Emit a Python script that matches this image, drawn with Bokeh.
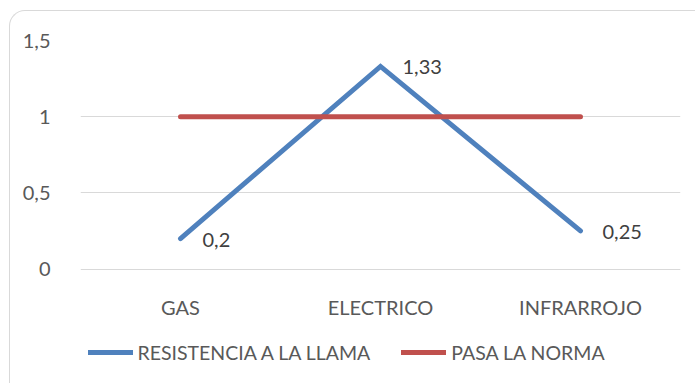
from bokeh.plotting import figure
from bokeh.models import (ColumnDataSource, FactorRange, Range1d, FixedTicker,
                          LabelSet, Legend, LegendItem)
from bokeh.core.properties import value
from bokeh.embed import file_html
from bokeh.resources import INLINE

categories = ["GAS", "ELECTRICO", "INFRARROJO"]
resistencia = [0.2, 1.33, 0.25]
resistencia_labels = ["0,2", "1,33", "0,25"]
norma = [1, 1, 1]
series_names = ["RESISTENCIA A LA LLAMA", "PASA LA NORMA"]
y_ticks = [0, 0.5, 1, 1.5]
y_tick_labels = ["0", "0,5", "1", "1,5"]

FONT = "Lato"
TXT = "#595959"
FS = "20px"

# layout in pixels (figure origin is offset by the CSS margin + border)
FIG_H = 373
TOP_BORDER, BOTTOM_BORDER = 29, 3
ZERO_PX = 257.5
FRAME_BOTTOM = FIG_H - BOTTOM_BORDER
px_per_unit = (ZERO_PX - TOP_BORDER) / max(y_ticks)
y_min = -(FRAME_BOTTOM - ZERO_PX) / px_per_unit

p = figure(width=686, height=FIG_H, output_backend="svg", toolbar_location=None,
           x_range=FactorRange(*categories, range_padding=0),
           y_range=Range1d(y_min, max(y_ticks)),
           min_border_left=70, min_border_right=16,
           min_border_top=TOP_BORDER, min_border_bottom=BOTTOM_BORDER,
           styles={"margin-left": "9px", "margin-top": "10px",
                   "border-top": "1.5px solid #d9d9d9",
                   "border-left": "1.5px solid #d9d9d9",
                   "border-top-left-radius": "16px"})
p.outline_line_color = None
p.background_fill_color = "white"
p.border_fill_alpha = 0

src = ColumnDataSource(dict(x=categories, y=resistencia, lab=resistencia_labels, n=norma))

r_blue = p.line("x", "y", source=src, line_color="#4f81bd", line_width=5,
                line_cap="round", line_join="miter")
r_red = p.line("x", "n", source=src, line_color="#c0504d", line_width=5,
               line_cap="round")

labels = LabelSet(x="x", y="y", text="lab", source=src, x_offset=22, y_offset=-1,
                  text_baseline="middle", text_align="left",
                  text_font=value(FONT), text_font_size=value(FS),
                  text_color="#404040")
p.add_layout(labels)

p.xgrid.grid_line_color = None
p.ygrid.grid_line_color = "#d9d9d9"
p.ygrid.grid_line_width = 1
p.yaxis.ticker = FixedTicker(ticks=y_ticks)
p.yaxis.major_label_overrides = {t: l for t, l in zip(y_ticks, y_tick_labels)}
p.xaxis.fixed_location = 0

for ax in (p.xaxis, p.yaxis):
    ax.axis_line_color = None
    ax.major_tick_line_color = None
    ax.minor_tick_line_color = None
    ax.major_label_text_font = FONT
    ax.major_label_text_font_size = FS
    ax.major_label_text_color = TXT
p.yaxis.major_label_standoff = 24
p.xaxis.major_label_standoff = 20

legend = Legend(items=[LegendItem(label=series_names[0], renderers=[r_blue]),
                       LegendItem(label=series_names[1], renderers=[r_red])],
                orientation="horizontal", location=(7.5, 17.5),
                glyph_width=45, glyph_height=20, label_height=20,
                label_standoff=5, spacing=31,
                padding=0, margin=0, border_line_color=None,
                background_fill_alpha=0,
                label_text_font=FONT, label_text_font_size="19.5px",
                label_text_color=TXT)
p.add_layout(legend)

open("out.html", "w").write(file_html(p, INLINE))
